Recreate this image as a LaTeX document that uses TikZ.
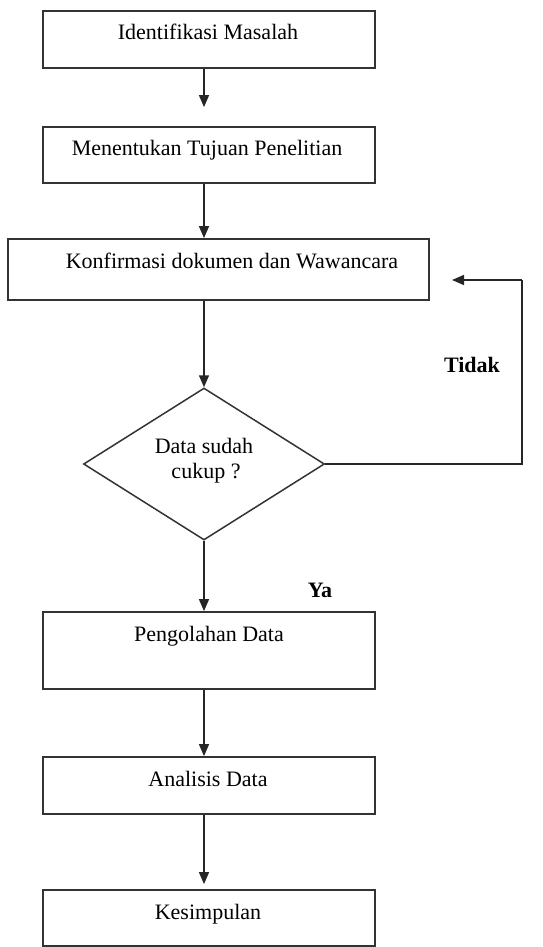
\documentclass[tikz,border=0pt]{standalone}
\usepackage{fontspec}
\setmainfont{Liberation Serif}
\usetikzlibrary{shapes.geometric,arrows.meta}
\begin{document}
\begin{tikzpicture}[x=1pt,y=-1pt,
  line width=1.5pt, draw=black!85,
  box/.style={draw=black!80, line width=1.8pt, rectangle, inner sep=0pt},
  lbl/.style={font=\fontsize{22pt}{26pt}\selectfont, anchor=base, inner sep=0pt, text=black},
  blbl/.style={font=\fontsize{22pt}{26pt}\selectfont\bfseries, inner sep=0pt, text=black},
  arr/.style={-{Triangle[width=10pt,length=12pt]}, line width=1.5pt, draw=black!85},
  ln/.style={line width=1.5pt, draw=black!85}]
\useasboundingbox (0,0) rectangle (543,947);
% boxes
\node[box, minimum width=332pt, minimum height=57pt] (b1) at (209,39.5) {};
\node[box, minimum width=332pt, minimum height=56pt] (b2) at (209,155) {};
\node[box, minimum width=421pt, minimum height=61pt] (b3) at (218.5,269.5) {};
\node[draw=black!80, line width=1.5pt, diamond, aspect=1.59, minimum width=241pt, minimum height=152pt, inner sep=0pt] (d) at (204,464) {};
\node[box, minimum width=332pt, minimum height=77pt] (b4) at (209,650.5) {};
\node[box, minimum width=332pt, minimum height=57pt] (b5) at (209,785.5) {};
\node[box, minimum width=332pt, minimum height=56pt] (b6) at (209,918) {};
% texts
\node[lbl] (t1) at (208,40) {Identifikasi Masalah};
\node[lbl] (t2) at (207,155) {Menentukan Tujuan Penelitian};
\node[lbl] (t3) at (232,268) {Konfirmasi dokumen dan Wawancara};
\node[lbl] (t4a) at (204,453) {Data sudah};
\node[lbl] (t4b) at (206,478) {cukup ?};
\node[lbl] (t5) at (209,641) {Pengolahan Data};
\node[lbl] (t6) at (208,786) {Analisis Data};
\node[lbl] (t7) at (208,919) {Kesimpulan};
\node[blbl] (tidak) at (472,365) {Tidak};
\node[blbl] (ya) at (320,590) {Ya};
% connectors
\draw[arr, shorten >=19pt] (b1.south -| d) -- (b2.north -| d);
\draw[arr] (b2.south -| d) -- (b3.north -| d);
\draw[arr] (b3.south -| d) -- (d.north);
\draw[arr] (d.south) -- (b4.north -| d);
\draw[arr] (b4.south -| d) -- (b5.north -| d);
\draw[arr, shorten >=5pt] (b5.south -| d) -- (b6.north -| d);
\coordinate (fr) at (522,464);
\coordinate (ft) at (522,280);
\coordinate (fe) at (452,280);
\draw[ln] (d.east) -- (fr) -- (ft);
\draw[arr] (ft) -- (fe);
\end{tikzpicture}
\end{document}
